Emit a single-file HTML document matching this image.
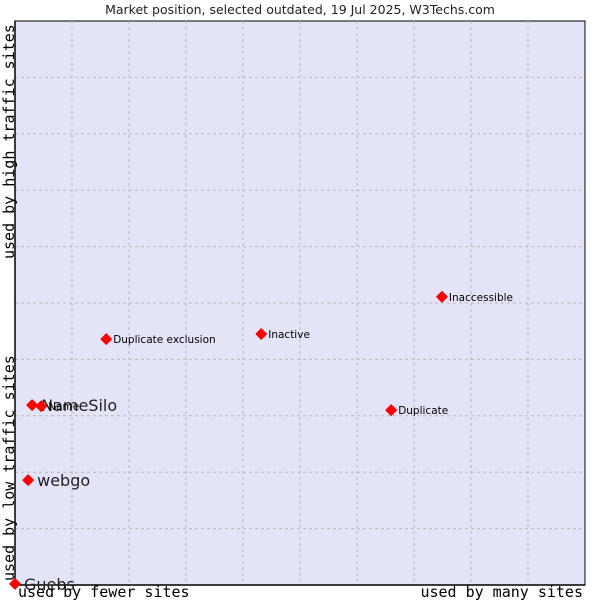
<!DOCTYPE html>
<html><head><meta charset="utf-8"><style>
body{margin:0;background:#fff;}
svg text{font-family:"DejaVu Sans","Liberation Sans",sans-serif;}
.mono{font-family:"DejaVu Sans Mono","Liberation Mono",monospace;font-size:15px;fill:#000;}
</style></head><body>
<svg id="chart" width="600" height="600" xmlns="http://www.w3.org/2000/svg">
<rect x="0" y="0" width="600" height="600" fill="#fff"/>
<text x="300" y="14" text-anchor="middle" font-size="12.5" fill="#222">Market position, selected outdated, 19 Jul 2025, W3Techs.com</text>
<rect x="15" y="21" width="570" height="564" fill="#e3e4f7" stroke="#000" stroke-width="1"/>
<g id="grid"></g>
<line x1="15" y1="21" x2="15" y2="585" stroke="#000" stroke-width="1.5"/>
<line x1="15" y1="585" x2="585" y2="585" stroke="#000" stroke-width="1.5"/>
<g id="points"></g>
<text class="mono" x="18" y="597">used by fewer sites</text>
<text class="mono" x="583" y="597" text-anchor="end">used by many sites</text>
<text class="mono" transform="translate(14,581) rotate(-90)">used by low traffic sites</text>
<text class="mono" transform="translate(14,259) rotate(-90)">used by high traffic sites</text>
</svg>
<script>
const names = ["NameSilo","Name","webgo","Guebs","Duplicate exclusion","Inactive","Inaccessible","Duplicate"];
const xValues = [3.0,4.6,2.3,0.0,16.0,43.2,74.9,66.0];
const yValues = [31.9,31.7,18.6,0.2,43.6,44.5,51.1,31.0];
const largeLabel = [true,false,true,true,false,false,false,false];
const gridTicks = [10,20,30,40,50,60,70,80,90];

const L=15,T=21,W=570,H=564,NS="http://www.w3.org/2000/svg";
const xs=v=>L+v/100*W, ys=v=>T+H-v/100*H;
const grid=document.getElementById('grid');
gridTicks.forEach(t=>{
  const v=document.createElementNS(NS,'line');
  
  
  v.setAttribute('x1',xs(t));v.setAttribute('x2',xs(t));v.setAttribute('y1',T);v.setAttribute('y2',T+H);
  v.setAttribute('stroke','#b8b8b8');v.setAttribute('stroke-dasharray','3,3');
  grid.appendChild(v);
  const h=document.createElementNS(NS,'line');
  
  
  h.setAttribute('y1',ys(t));h.setAttribute('y2',ys(t));h.setAttribute('x1',L);h.setAttribute('x2',L+W);
  h.setAttribute('stroke','#b8b8b8');h.setAttribute('stroke-dasharray','3,3');
  grid.appendChild(h);
});
const pts=document.getElementById('points');
names.forEach((n,i)=>{
  const x=xs(xValues[i]),y=ys(yValues[i]);
  const d=document.createElementNS(NS,'polygon');
  
  
  d.setAttribute('points',`${x},${y-5} ${x+5},${y} ${x},${y+5} ${x-5},${y}`);
  d.setAttribute('fill','#ff0000');
  d.setAttribute('stroke','#ff0000');
  d.setAttribute('stroke-linejoin','round');
  d.setAttribute('stroke-width','1.5');
  pts.appendChild(d);
  const t=document.createElementNS(NS,'text');
  
  
  const big=largeLabel[i];
  t.setAttribute('x',x+(big?9:7));
  t.setAttribute('y',y+(big?6:4));
  t.setAttribute('font-size',big?16:10.5);
  t.setAttribute('fill',big?'#222':'#000');
  t.textContent=n;
  pts.appendChild(t);
});
</script>
</body></html>
